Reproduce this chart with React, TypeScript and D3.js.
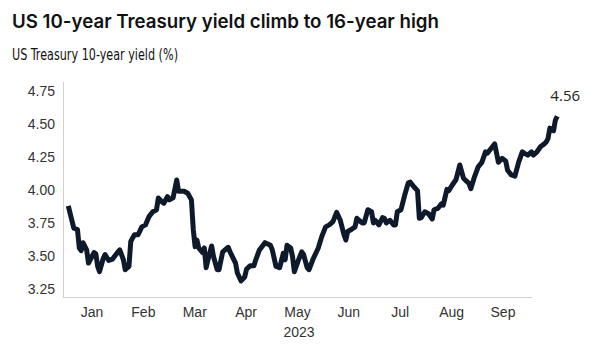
import * as d3 from 'd3';
import React, { useEffect, useRef } from 'react';

// 10-year yield, 2023
const dates = [
  '01-03', '01-06', '01-08', '01-09', '01-10', '01-11', '01-13', '01-14', '01-17', '01-18',
  '01-19', '01-20', '01-22', '01-23', '01-25', '01-27', '01-30', '01-31', '02-02', '02-03',
  '02-05', '02-06', '02-08', '02-10', '02-12', '02-14', '02-16', '02-18', '02-20', '02-21',
  '02-23', '02-24', '02-26', '02-27', '03-01', '03-03', '03-04', '03-07', '03-09', '03-11',
  '03-12', '03-13', '03-14', '03-15', '03-17', '03-18', '03-19', '03-20', '03-22', '03-23',
  '03-25', '03-26', '03-28', '03-31', '04-01', '04-04', '04-05', '04-07', '04-09', '04-10',
  '04-12', '04-14', '04-15', '04-17', '04-20', '04-23', '04-24', '04-26', '04-28', '04-30',
  '05-01', '05-02', '05-04', '05-05', '05-06', '05-08', '05-10', '05-11', '05-13', '05-14',
  '05-16', '05-19', '05-21', '05-23', '05-25', '05-27', '05-29', '05-31', '06-02', '06-03',
  '06-04', '06-06', '06-08', '06-09', '06-11', '06-12', '06-13', '06-15', '06-17', '06-18',
  '06-19', '06-21', '06-23', '06-24', '06-25', '06-27', '06-29', '06-30', '07-01', '07-03',
  '07-05', '07-07', '07-08', '07-10', '07-12', '07-13', '07-14', '07-16', '07-18', '07-20',
  '07-21', '07-23', '07-25', '07-26', '07-28', '07-29', '07-31', '08-02', '08-04', '08-06',
  '08-07', '08-09', '08-10', '08-12', '08-14', '08-16', '08-18', '08-19', '08-21', '08-23',
  '08-24', '08-25', '08-27', '08-29', '08-30', '09-01', '09-03', '09-05', '09-07', '09-08',
  '09-10', '09-12', '09-13', '09-15', '09-17', '09-19', '09-20', '09-21', '09-22', '09-24',
  '09-25', '09-26',
];

const yields = [
  3.88, 3.71, 3.70, 3.56, 3.54, 3.60, 3.545, 3.445, 3.525, 3.515,
  3.42, 3.38, 3.48, 3.51, 3.465, 3.475, 3.53, 3.545, 3.47, 3.395,
  3.42, 3.61, 3.66, 3.66, 3.72, 3.735, 3.80, 3.835, 3.85, 3.94,
  3.91, 3.90, 3.95, 3.925, 3.94, 4.076, 3.99, 3.99, 3.975, 3.925,
  3.70, 3.57, 3.62, 3.56, 3.525, 3.56, 3.41, 3.47, 3.575, 3.495,
  3.395, 3.395, 3.53, 3.565, 3.53, 3.445, 3.37, 3.31, 3.34, 3.40,
  3.425, 3.425, 3.47, 3.545, 3.60, 3.58, 3.545, 3.42, 3.41, 3.52,
  3.47, 3.58, 3.56, 3.495, 3.38, 3.46, 3.53, 3.51, 3.41, 3.395,
  3.47, 3.56, 3.65, 3.72, 3.735, 3.76, 3.83, 3.77, 3.66, 3.62,
  3.685, 3.70, 3.72, 3.785, 3.76, 3.75, 3.75, 3.85, 3.835, 3.75,
  3.77, 3.735, 3.79, 3.785, 3.75, 3.77, 3.735, 3.735, 3.835, 3.85,
  3.96, 4.055, 4.06, 4.025, 3.995, 3.785, 3.79, 3.835, 3.82, 3.78,
  3.85, 3.86, 3.895, 3.885, 4.005, 3.995, 4.04, 4.08, 4.19, 4.09,
  4.075, 4.05, 4.01, 4.10, 4.176, 4.21, 4.29, 4.28, 4.315, 4.35,
  4.28, 4.21, 4.24, 4.22, 4.15, 4.115, 4.105, 4.21, 4.29, 4.28,
  4.265, 4.29, 4.265, 4.29, 4.33, 4.35, 4.365, 4.39, 4.47, 4.45,
  4.53, 4.56,
];

const months = ['Jan', 'Feb', 'Mar', 'Apr', 'May', 'Jun', 'Jul', 'Aug', 'Sep'];
const yTicks = [3.25, 3.5, 3.75, 4.0, 4.25, 4.5, 4.75];

const App: React.FC = () => {
  const svgRef = useRef<SVGSVGElement | null>(null);

  useEffect(() => {
    if (!svgRef.current) return;
    const width = 605;
    const height = 358;
    const svg = d3.select(svgRef.current);
    svg.selectAll('*').remove();
    svg.attr('width', width).attr('height', height);

    const parse = d3.timeParse('%Y-%m-%d');
    const data = dates.map((d, i) => ({ date: parse('2023-' + d)!, value: yields[i] }));

    const x = d3
      .scaleTime()
      .domain([parse('2023-01-01')!, parse('2023-10-01')!])
      .range([64.6, 566.4]);
    const y = d3.scaleLinear().domain([3.18, 4.82]).range([298, 82]);
    const xLabels = d3.scalePoint<string>().domain(months).range([92, 503]);

    // title + subtitle
    svg
      .append('text')
      .attr('x', 12)
      .attr('y', 28)
      .attr('font-family', 'Inter, sans-serif')
      .attr('font-weight', 600)
      .attr('font-size', 18.7)
      .attr('fill', '#111')
      .text('US 10-year Treasury yield climb to 16-year high');

    svg
      .append('text')
      .attr('x', 12)
      .attr('y', 59.5)
      .attr('font-family', "'Liberation Sans Narrow', 'DejaVu Sans Condensed', sans-serif")
      .attr('font-size', 16.5)
      .attr('fill', '#111')
      .attr('textLength', 166)
      .attr('lengthAdjust', 'spacingAndGlyphs')
      .text('US Treasury 10-year yield (%)');

    // axes lines
    svg
      .append('line')
      .attr('x1', 63.5).attr('x2', 63.5)
      .attr('y1', 82).attr('y2', 298)
      .attr('stroke', '#d0d0d0').attr('stroke-width', 1);
    svg
      .append('line')
      .attr('x1', 63).attr('x2', 532)
      .attr('y1', 297.5).attr('y2', 297.5)
      .attr('stroke', '#d0d0d0').attr('stroke-width', 1);

    // y tick labels
    svg
      .append('g')
      .selectAll('text')
      .data(yTicks)
      .enter()
      .append('text')
      .attr('x', 55)
      .attr('y', (d) => y(d))
      .attr('dy', '0.36em')
      .attr('text-anchor', 'end')
      .attr('font-family', "'Liberation Sans', Arial, sans-serif")
      .attr('font-size', 14)
      .attr('fill', '#333')
      .text((d) => d3.format('.2f')(d));

    // month labels
    svg
      .append('g')
      .selectAll('text')
      .data(months)
      .enter()
      .append('text')
      .attr('x', (d) => xLabels(d)!)
      .attr('y', 317)
      .attr('text-anchor', 'middle')
      .attr('font-family', "'Liberation Sans', Arial, sans-serif")
      .attr('font-size', 14)
      .attr('fill', '#333')
      .text((d) => d);

    svg
      .append('text')
      .attr('x', 299)
      .attr('y', 337)
      .attr('text-anchor', 'middle')
      .attr('font-family', "'Liberation Sans', Arial, sans-serif")
      .attr('font-size', 14)
      .attr('fill', '#333')
      .text('2023');

    // the line
    const line = d3
      .line<{ date: Date; value: number }>()
      .x((d) => x(d.date))
      .y((d) => y(d.value));

    svg
      .append('path')
      .datum(data)
      .attr('d', line)
      .attr('fill', 'none')
      .attr('stroke', '#0e1a2b')
      .attr('stroke-width', 5)
      .attr('stroke-linejoin', 'round')
      .attr('stroke-linecap', 'butt');

    // last value label
    const last = data[data.length - 1];
    svg
      .append('text')
      .attr('x', x(last.date) + 8)
      .attr('y', y(last.value) - 15)
      .attr('text-anchor', 'middle')
      .attr('font-family', "'Open Sans', sans-serif")
      .attr('font-size', 15)
      .attr('fill', '#222')
      .text(d3.format('.2f')(last.value));
  }, []);

  return <svg ref={svgRef} style={{ position: 'absolute', left: 0, top: 0 }} />;
};

export default App;
